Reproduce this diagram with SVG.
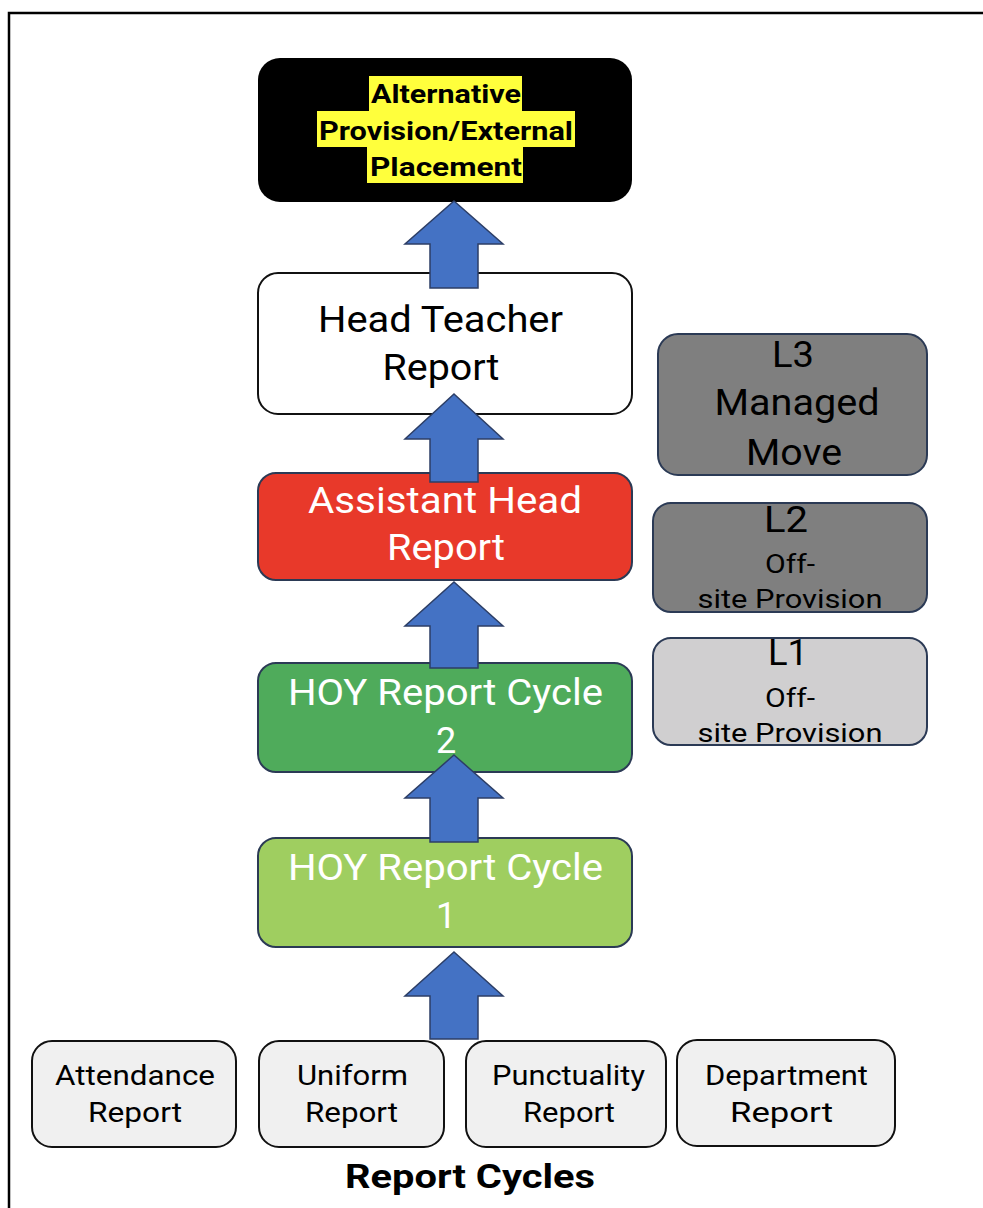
<svg xmlns="http://www.w3.org/2000/svg" width="983" height="1208" viewBox="0 0 983 1208">
<style>
text{font-family:Roboto,"Liberation Sans",sans-serif;text-anchor:middle}
.big{font-size:36px}
.mid{font-size:28px}
.sm{font-size:26px}
.w{fill:#ffffff}
.k{fill:#000000}
.nav{stroke:#2b3a55;stroke-width:2}
.blk{stroke:#111111;stroke-width:2}
.arr{fill:#4472c4;stroke:#2c3e66;stroke-width:1.5}
.hl{fill:#ffff3c}
</style>
<rect x="0" y="0" width="983" height="1208" fill="#ffffff"/>
<rect x="9" y="13" width="1000" height="1250" fill="none" stroke="#000" stroke-width="2.5"/>
<g id="alt">
<rect x="258" y="58" width="374" height="144" rx="22" fill="#000"/>
<rect class="hl" x="369" y="76" width="153" height="35"/>
<rect class="hl" x="317" y="111" width="258" height="36"/>
<rect class="hl" x="367" y="147" width="156" height="36"/>
<text x="446" y="103" font-size="25" font-weight="bold" class="k" textLength="150" lengthAdjust="spacingAndGlyphs">Alternative</text>
<text x="446" y="140" font-size="25" font-weight="bold" class="k" textLength="254" lengthAdjust="spacingAndGlyphs">Provision/External</text>
<text x="446" y="176" font-size="25" font-weight="bold" class="k" textLength="152" lengthAdjust="spacingAndGlyphs">Placement</text>
</g>
<g id="head">
<rect x="258" y="273" width="374" height="141" rx="20" fill="#fff" class="blk"/>
<text x="440.5" y="332" class="big k" textLength="245" lengthAdjust="spacingAndGlyphs">Head Teacher</text>
<text x="441" y="380" class="big k" textLength="117" lengthAdjust="spacingAndGlyphs">Report</text>
</g>
<g id="l3">
<rect x="658" y="334" width="269" height="141" rx="20" fill="#7f7f7f" class="nav"/>
<text x="793" y="367" class="big k" textLength="42" lengthAdjust="spacingAndGlyphs">L3</text>
<text x="797" y="415" class="big k" textLength="165" lengthAdjust="spacingAndGlyphs">Managed</text>
<text x="794" y="465" class="big k" textLength="96" lengthAdjust="spacingAndGlyphs">Move</text>
</g>
<g id="assistant">
<rect x="258" y="473" width="374" height="107" rx="18" fill="#e8392a" class="nav"/>
<text x="445" y="513" class="big w" textLength="274" lengthAdjust="spacingAndGlyphs">Assistant Head</text>
<text x="446" y="560" class="big w" textLength="118" lengthAdjust="spacingAndGlyphs">Report</text>
</g>
<g id="l2">
<rect x="653" y="503" width="274" height="109" rx="18" fill="#7f7f7f" class="nav"/>
<text x="786" y="532" class="big k" textLength="44" lengthAdjust="spacingAndGlyphs">L2</text>
<text x="790" y="573" class="sm k" textLength="50" lengthAdjust="spacingAndGlyphs">Off-</text>
<text x="790" y="608" class="sm k" textLength="185" lengthAdjust="spacingAndGlyphs">site Provision</text>
</g>
<g id="l1">
<rect x="653" y="638" width="274" height="107" rx="18" fill="#d0cfd0" class="nav"/>
<text x="788" y="665" class="big k" textLength="40" lengthAdjust="spacingAndGlyphs">L1</text>
<text x="790" y="707" class="sm k" textLength="50" lengthAdjust="spacingAndGlyphs">Off-</text>
<text x="790" y="742" class="sm k" textLength="185" lengthAdjust="spacingAndGlyphs">site Provision</text>
</g>
<g id="hoy2">
<rect x="258" y="663" width="374" height="109" rx="18" fill="#4fab5b" class="nav"/>
<text x="445.5" y="705" class="big w" textLength="315" lengthAdjust="spacingAndGlyphs">HOY Report Cycle</text>
<text x="446" y="753" class="big w">2</text>
</g>
<g id="hoy1">
<rect x="258" y="838" width="374" height="109" rx="18" fill="#9fce60" class="nav"/>
<text x="445.5" y="880" class="big w" textLength="315" lengthAdjust="spacingAndGlyphs">HOY Report Cycle</text>
<text x="446" y="928" class="big w">1</text>
</g>
<g id="attendance">
<rect x="32" y="1041" width="204" height="106" rx="20" fill="#f0f0f0" class="blk"/>
<text x="135" y="1085" class="mid k" textLength="160" lengthAdjust="spacingAndGlyphs">Attendance</text>
<text x="135" y="1122" class="mid k" textLength="94" lengthAdjust="spacingAndGlyphs">Report</text>
</g>
<g id="uniform">
<rect x="259" y="1041" width="185" height="106" rx="20" fill="#f0f0f0" class="blk"/>
<text x="352.5" y="1085" class="mid k" textLength="111" lengthAdjust="spacingAndGlyphs">Uniform</text>
<text x="351.5" y="1122" class="mid k" textLength="93" lengthAdjust="spacingAndGlyphs">Report</text>
</g>
<g id="punctuality">
<rect x="466" y="1041" width="200" height="106" rx="20" fill="#f0f0f0" class="blk"/>
<text x="568.5" y="1085" class="mid k" textLength="153" lengthAdjust="spacingAndGlyphs">Punctuality</text>
<text x="569" y="1122" class="mid k" textLength="92" lengthAdjust="spacingAndGlyphs">Report</text>
</g>
<g id="department">
<rect x="677" y="1040" width="218" height="106" rx="20" fill="#f0f0f0" class="blk"/>
<text x="786.5" y="1085" class="mid k" textLength="163" lengthAdjust="spacingAndGlyphs">Department</text>
<text x="781.5" y="1122" class="mid k" textLength="103" lengthAdjust="spacingAndGlyphs">Report</text>
</g>
<g id="title">
<text x="470" y="1188" font-size="33" font-weight="bold" class="k" textLength="250" lengthAdjust="spacingAndGlyphs">Report Cycles</text>
</g>
<g id="connectors">
<polygon class="arr" points="454,201 503,244 478,244 478,288 430,288 430,244 405,244"/>
<polygon class="arr" points="454,394 503,439 478,439 478,482 430,482 430,439 405,439"/>
<polygon class="arr" points="454,582 503,626 478,626 478,668 430,668 430,626 405,626"/>
<polygon class="arr" points="454,755 503,798 478,798 478,842 430,842 430,798 405,798"/>
<polygon class="arr" points="454,952 503,996 478,996 478,1039 430,1039 430,996 405,996"/>
</g>
</svg>
